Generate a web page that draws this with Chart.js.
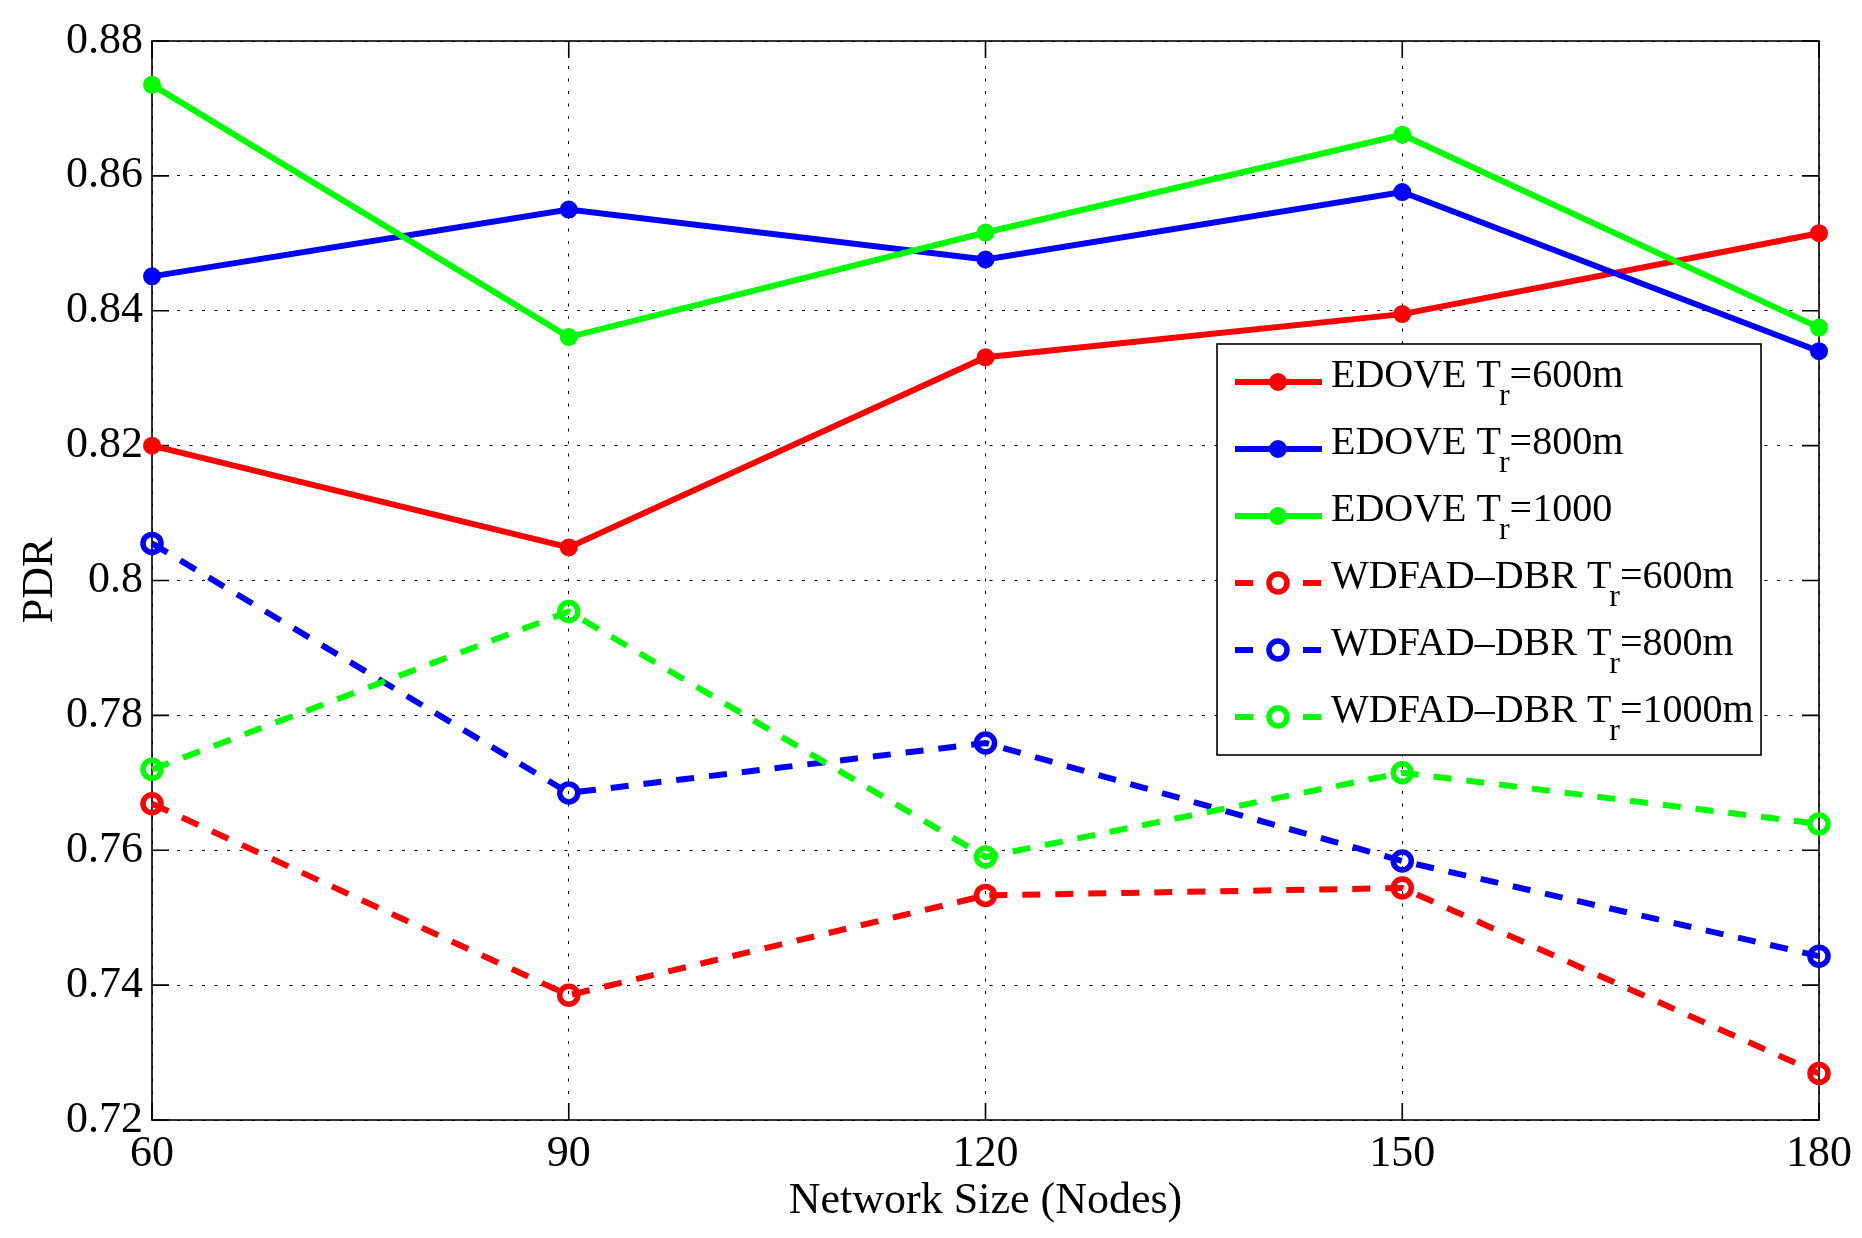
<!DOCTYPE html>
<html>
<head>
<meta charset="utf-8">
<script src="https://cdn.jsdelivr.net/npm/chart.js@4.4.1/dist/chart.umd.min.js"></script>
<style>
  html, body { margin: 0; padding: 0; background: #fff; }
  canvas { display: block; }
</style>
</head>
<body>
<canvas id="myChart" width="1862" height="1238"></canvas>
<script>
// network size (nodes)
const network_sizes = ['60', '90', '120', '150', '180']

// PDR
const edove_600 = [0.8200, 0.8049, 0.8331, 0.8395, 0.8515]
const edove_800 = [0.8451, 0.8550, 0.8476, 0.8576, 0.8340]
const edove_1000 = [0.8735, 0.8361, 0.8516, 0.8661, 0.8375]
const wdfad_600 = [0.7669, 0.7385, 0.7533, 0.7544, 0.7269]
const wdfad_800 = [0.8055, 0.7685, 0.7759, 0.7584, 0.7443]
const wdfad_1000 = [0.7720, 0.7954, 0.7590, 0.7715, 0.7639]

const y_ticks = [0.72, 0.74, 0.76, 0.78, 0.8, 0.82, 0.84, 0.86, 0.88]

// legend text: name, "T" with subscript r, value
const series_names = ['EDOVE', 'EDOVE', 'EDOVE', 'WDFAD\u2013DBR', 'WDFAD\u2013DBR', 'WDFAD\u2013DBR']
const series_ranges = ['600m', '800m', '1000', '600m', '800m', '1000m']

const RED = '#ff0000'
const BLUE = '#0000ff'
const GREEN = '#00ff00'
const FONT = "'Liberation Serif', 'Times New Roman', serif"

function solid_set(label, data, color, idx){
    return {
        label: label, data: data,
        borderColor: color, backgroundColor: color,
        borderWidth: 6, tension: 0,
        pointRadius: 8, pointBorderWidth: 2,
        pointBackgroundColor: color, pointBorderColor: color,
        order: 10 - idx, clip: false
    }
}

function dashed_set(label, data, color, idx){
    return {
        label: label, data: data,
        borderColor: color, backgroundColor: color,
        borderWidth: 6, borderDash: [18, 15], tension: 0,
        pointRadius: 9, pointBorderWidth: 5.5,
        pointBackgroundColor: 'rgba(0,0,0,0)', pointBorderColor: color,
        order: 10 - idx, clip: false
    }
}

const datasets = [
    solid_set('EDOVE Tr=600m', edove_600, RED, 0),
    solid_set('EDOVE Tr=800m', edove_800, BLUE, 1),
    solid_set('EDOVE Tr=1000', edove_1000, GREEN, 2),
    dashed_set('WDFAD-DBR Tr=600m', wdfad_600, RED, 3),
    dashed_set('WDFAD-DBR Tr=800m', wdfad_800, BLUE, 4),
    dashed_set('WDFAD-DBR Tr=1000m', wdfad_1000, GREEN, 5)
]

// box round the axes with inward ticks on all four sides
const frame_plugin = {
    id: 'frame',
    beforeDatasetsDraw(chart){
        const ctx = chart.ctx
        const a = chart.chartArea
        const x = chart.scales.x
        const y = chart.scales.y
        const len = 17
        ctx.save()
        ctx.setLineDash([])
        ctx.strokeStyle = '#000'
        ctx.lineWidth = 1.6
        ctx.strokeRect(a.left, a.top, a.right - a.left, a.bottom - a.top)
        ctx.beginPath()
        x.ticks.forEach((t, i) => {
            const px = x.getPixelForTick(i)
            ctx.moveTo(px, a.bottom); ctx.lineTo(px, a.bottom - len)
            ctx.moveTo(px, a.top); ctx.lineTo(px, a.top + len)
        })
        y.ticks.forEach((t, i) => {
            const py = y.getPixelForTick(i)
            ctx.moveTo(a.left, py); ctx.lineTo(a.left + len, py)
            ctx.moveTo(a.right, py); ctx.lineTo(a.right - len, py)
        })
        ctx.stroke()
        ctx.restore()
    }
}

// legend with subscripts, drawn by hand
const legend_plugin = {
    id: 'sub_legend',
    afterDraw(chart){
        const ctx = chart.ctx
        const box = {left: 1217, top: 344, right: 1761, bottom: 755}
        ctx.save()
        ctx.setLineDash([])
        ctx.fillStyle = '#fff'
        ctx.fillRect(box.left, box.top, box.right - box.left, box.bottom - box.top)
        ctx.strokeStyle = '#000'
        ctx.lineWidth = 1.6
        ctx.strokeRect(box.left, box.top, box.right - box.left, box.bottom - box.top)

        chart.data.datasets.forEach((ds, i) => {
            const ly = 382 + i * 67
            const x0 = 1235, x1 = 1322, xm = 1278
            ctx.strokeStyle = ds.borderColor
            ctx.lineWidth = ds.borderWidth
            ctx.lineCap = 'butt'
            ctx.beginPath()
            if(ds.borderDash){
                ctx.setLineDash([18, 50])
            } else {
                ctx.setLineDash([])
            }
            ctx.moveTo(x0, ly); ctx.lineTo(x1, ly)
            ctx.stroke()
            ctx.setLineDash([])
            ctx.beginPath()
            ctx.arc(xm, ly, ds.pointRadius, 0, Math.PI * 2)
            ctx.lineWidth = ds.pointBorderWidth
            ctx.strokeStyle = ds.pointBorderColor
            if(!ds.borderDash){
                ctx.fillStyle = ds.pointBackgroundColor
                ctx.fill()
            }
            ctx.stroke()

            // text
            ctx.fillStyle = '#000'
            ctx.textBaseline = 'alphabetic'
            ctx.textAlign = 'left'
            ctx.font = '40px ' + FONT
            let tx = 1331
            const base = ly + 5
            const main = series_names[i] + ' T'
            ctx.fillText(main, tx, base)
            tx += ctx.measureText(main).width - 2
            ctx.font = '32px ' + FONT
            ctx.fillText('r', tx, base + 18)
            tx += ctx.measureText('r').width
            ctx.font = '40px ' + FONT
            ctx.fillText('=' + series_ranges[i], tx, base)
        })
        ctx.restore()
    }
}

let ctx = document.getElementById('myChart')
let config = {
    type: 'line',
    data: {labels: network_sizes, datasets: datasets},
    options: {
        responsive: false,
        animation: false,
        devicePixelRatio: 1,
        layout: {padding: {left: 0, top: 41, right: 43, bottom: 0}},
        plugins: {
            legend: {display: false},
            tooltip: {enabled: false}
        },
        scales: {
            x: {
                type: 'category',
                offset: false,
                grid: {
                    offset: false,
                    drawTicks: false,
                    color: '#000', lineWidth: 1
                },
                border: {display: false, dash: [3, 9.5]},
                ticks: {
                    color: '#000', padding: 8, maxRotation: 0,
                    font: {family: FONT, size: 44}
                },
                title: {
                    display: true, text: 'Network Size (Nodes)', color: '#000',
                    font: {family: FONT, size: 44}, padding: {top: 0, bottom: 10}
                },
                afterFit: (scale) => { scale.height = 118 }
            },
            y: {
                min: 0.72, max: 0.88,
                grid: {
                    drawTicks: false,
                    color: '#000', lineWidth: 1
                },
                border: {display: false, dash: [3, 9.5]},
                afterBuildTicks: (scale) => {
                    scale.ticks = y_ticks.map(v => ({value: v}))
                },
                ticks: {
                    color: '#000', padding: 9,
                    font: {family: FONT, size: 44},
                    callback: (v) => String(+Number(v).toFixed(2))
                },
                title: {
                    display: true, text: 'PDR', color: '#000',
                    font: {family: FONT, size: 44}, padding: {top: 14, bottom: 0}
                },
                afterFit: (scale) => { scale.width = 152 }
            }
        }
    },
    plugins: [frame_plugin, legend_plugin]
}

let chart = new Chart(ctx, config)
</script>
</body>
</html>
